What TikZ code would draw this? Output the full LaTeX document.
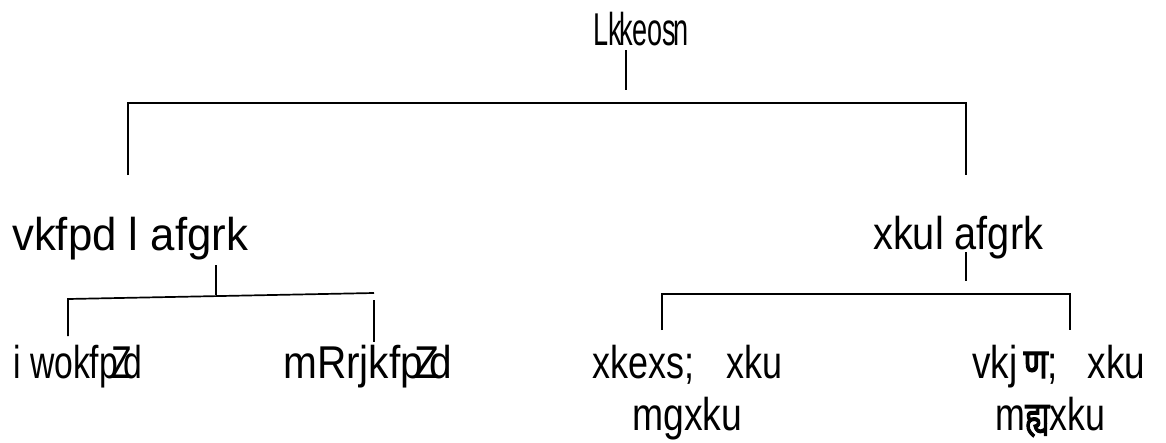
\documentclass[tikz,border=0pt]{standalone}
\usepackage{fontspec}
\usepackage{graphicx}
\setmainfont{Liberation Sans}
\newfontfamily\devfont[Script=Devanagari,FakeBold=3]{Noto Sans}
\newsavebox\fitbox
\newcommand\fitw[2]{\sbox\fitbox{#2}\pgfmathsetmacro\fitsx{#1/\the\wd\fitbox}\scalebox{\fitsx}[1]{\usebox\fitbox}}
\begin{document}
\begin{tikzpicture}[x=1pt,y=-1pt,
  lbl/.style={inner sep=0pt, anchor=base west, font=\fontsize{46}{52}\selectfont},
  ln/.style={line width=1.7pt}]
\useasboundingbox (0,0) rectangle (1166,442);
% labels
\node[lbl] (root) at (593,45) {\fitw{95}{Lk\kern-.1em keos\kern-.12em n}};
\node[lbl] (arch) at (12,250) {\fitw{236}{vkfpd l afgrk}};
\node[lbl] (gana) at (873,249) {\fitw{170}{xkul afgrk}};
\node[lbl] (purva) at (13,378) {\fitw{129}{i wokfp\kern-.2em Z\kern-.25em d}};
\node[lbl] (uttara) at (283,378) {\fitw{169}{mRrjkfp\kern-.2em Z\kern-.25em d}};
\node[lbl] (grama1) at (592,378) {\fitw{190}{xkexs;\hspace{.9em}xku}};
\node[lbl] (grama2) at (632,430) {\fitw{110}{mgxku}};
\node[lbl] (aranya1) at (972,378) {\fitw{173}{vkj\,{\devfont\fontsize{42}{46}\selectfont ण};\hspace{.8em}xku}};
\node[lbl] (aranya2) at (995,430) {\fitw{110}{m{\devfont\fontsize{40}{46}\selectfont ह्य}xku}};
% connector points
\coordinate (r0) at (626,50);
\coordinate (r1) at (626,90);
\coordinate (bl) at (128,175);
\coordinate (blt) at (128,103);
\coordinate (brt) at (966,103);
\coordinate (br) at (966,175);
\coordinate (a0) at (216,265);
\coordinate (a1) at (216,295);
\coordinate (al) at (68,336);
\coordinate (alt) at (68,299);
\coordinate (art) at (374,293);
\coordinate (ar0) at (374,300);
\coordinate (ar1) at (374,342);
\coordinate (g0) at (966,252);
\coordinate (g1) at (966,281);
\coordinate (gl) at (662,330);
\coordinate (glt) at (662,294);
\coordinate (grt) at (1070,294);
\coordinate (gr) at (1070,330);
% connectors
\draw[ln] (r0) -- (r1);
\draw[ln] (bl) -- (blt) -- (brt) -- (br);
\draw[ln] (a0) -- (a1);
\draw[ln] (al) -- (alt) -- (art);
\draw[ln] (ar0) -- (ar1);
\draw[ln] (g0) -- (g1);
\draw[ln] (gl) -- (glt) -- (grt) -- (gr);
\end{tikzpicture}
\end{document}
